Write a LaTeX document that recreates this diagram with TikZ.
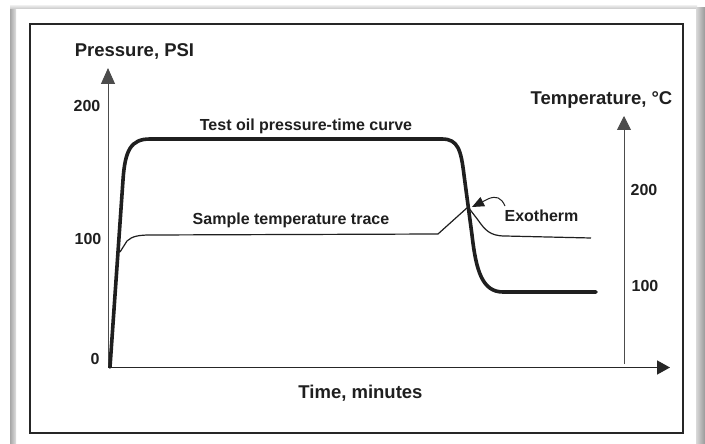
\documentclass[tikz,border=0pt]{standalone}
\usepackage{fontspec}
\setmainfont{Liberation Sans}
\usetikzlibrary{arrows.meta}
\begin{document}
\begin{tikzpicture}[x=1pt,y=-1pt,
  lbl/.style={font=\bfseries\fontsize{16}{19}\selectfont, text=black!88, inner sep=0pt, anchor=base},
  ttl/.style={font=\bfseries\fontsize{18.5}{22}\selectfont, text=black!88, inner sep=0pt, anchor=base},
  axis/.style={draw=black!70, line width=1pt},
  thickcurve/.style={draw=black!88, line width=3.6pt, line join=round, line cap=round},
  thincurve/.style={draw=black!88, line width=1.2pt, line join=round},
  tip/.style={-{Triangle[length=#1pt,width=14pt]}}
]
\useasboundingbox (0,0) rectangle (705,444);
% outer bevel
\fill[white] (0,0) rectangle (705,444);
\shade[left color=gray!70, right color=gray!25] (10,8) rectangle (16,444);
\shade[top color=gray!20, bottom color=gray!45] (10,6) rectangle (697,9);
\shade[left color=gray!30, right color=gray!80] (696,8) rectangle (705,444);
% inner frame
\draw[black!85, line width=2.6pt] (30,24) rectangle (683,433);
% axes
\coordinate (O) at (108,367.5);
\coordinate (ytop) at (108,68);
\coordinate (xend) at (670,367.5);
\coordinate (rbot) at (624,364);
\coordinate (rtop) at (624,116);
\draw[axis, line width=0.9pt, tip=16] (O) -- (ytop);
\draw[axis, line width=1.6pt, draw=black!85, tip=13] (O) -- (xend);
\draw[axis, line width=0.9pt, tip=14] (rbot) -- (rtop);
% labels
\node[ttl] (pressure) at (134.5,57) {Pressure, PSI};
\node[ttl] (temp) at (601.5,105) {Temperature, °C};
\node[ttl] (time) at (360.5,398) {Time, minutes};
\node[lbl] (p200) at (87,112) {200};
\node[lbl] (p100) at (88,244) {100};
\node[lbl] (p0) at (95,364) {0};
\node[lbl] (t200) at (644,195) {200};
\node[lbl] (t100) at (645,291) {100};
\node[lbl] (oil) at (306,131) {Test oil pressure-time curve};
\node[lbl] (sample) at (291,224) {Sample temperature trace};
\node[lbl] (exo) at (541.5,221) {Exotherm};
% thick pressure curve
\draw[thickcurve] (110,367) -- (123,180) .. controls (125,150) and (131,139) .. (150,139)
  -- (442,139) .. controls (458,139) and (461,150) .. (464,175)
  -- (472,235) .. controls (476,270) and (482,292) .. (503,292) -- (596,292);
% thin temperature curve
\coordinate (peak) at (468,207);
\draw[thincurve] (120,252) -- (127,241) .. controls (132,236) and (140,235) .. (150,235)
  -- (438,234) -- (peak) -- (478,220) .. controls (485,230) and (490,236) .. (505,236) -- (591,238);
% exotherm pointer
\coordinate (exotail) at (505,206);
\coordinate (exotip) at (472,207);
\draw[black!88, line width=1pt, -{Triangle[length=12pt,width=10pt]}] (exotail) .. controls (501,197) and (496,196) .. (489,198.5) -- (exotip);
\end{tikzpicture}
\end{document}
